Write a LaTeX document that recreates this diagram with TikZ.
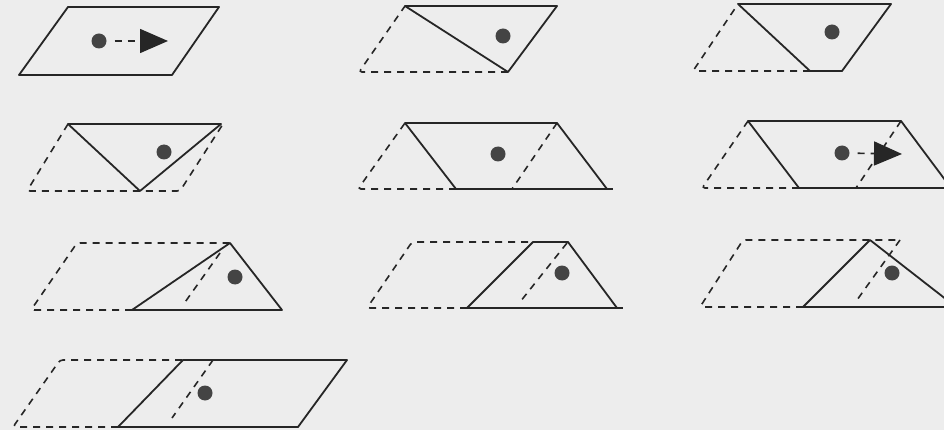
\documentclass[tikz,border=0pt]{standalone}
\usetikzlibrary{arrows.meta}
\definecolor{paper}{RGB}{237, 237, 237}
\definecolor{ink}{RGB}{38, 38, 38}
\definecolor{blob}{RGB}{68, 68, 68}
\tikzset{
	cut/.style={draw=ink, line width=1.8pt, line join=round},
	ghost/.style={draw=ink, line width=1.6pt, dash pattern=on 7pt off 6pt, rounded corners=3pt},
	mass/.style={circle, fill=blob, inner sep=0pt, minimum size=15pt},
	motion/.style={draw=ink, line width=1.6pt, dash pattern=on 7pt off 6pt, shorten <=8pt, -{Triangle[length=28pt, width=24pt]}},
}

\begin{document}
\begin{tikzpicture}[x=1pt, y=-1pt]
	\fill[paper] (0,0) rectangle (944,430);
	\clip (0,0) rectangle (944,430);
	% row 1
	\draw[cut] (68,7) -- (219,7) -- (172,75) -- (19,75) -- cycle;
	\node[mass] (dotA) at (99,41) {};
	\coordinate (tipA) at (168,41);
	\draw[motion] (dotA) -- (tipA);

	\draw[ghost] (508,72) -- (359,72) -- (405,6);
	\draw[cut] (405,6) -- (557,6) -- (508,72) -- cycle;
	\node[mass] (dotB) at (503,36) {};

	\draw[ghost] (810,71) -- (693,71) -- (738,4);
	\draw[cut] (738,4) -- (891,4) -- (842,71) -- (810,71) -- cycle;
	\node[mass] (dotC) at (832,32) {};
	% row 2
	\draw[ghost] (68,124) -- (27,191) -- (180,191) -- (223,124);
	\draw[cut] (68,124) -- (221,124) -- (140,191) -- cycle;
	\node[mass] (dotD) at (164,152) {};

	\draw[ghost] (456,189) -- (358,189) -- (405,123);
	\draw[ghost] (557,123) -- (512,189);
	\draw[cut] (405,123) -- (557,123) -- (607,189) -- (456,189) -- cycle;
	\draw[cut] (607,189) -- (613,189);
	\node[mass] (dotE) at (498,154) {};

	\draw[ghost] (799,188) -- (702,188) -- (748,121);
	\draw[ghost] (901,121) -- (856,188);
	\draw[cut] (960,188) -- (799,188) -- (748,121) -- (901,121) -- (951,188);
	\node[mass] (dotF) at (842,153) {};
	\coordinate (tipF) at (902,154);
	\draw[motion] (dotF) -- (tipF);
	% row 3
	\draw[ghost] (132,310) -- (31,310) -- (77,243) -- (230,243);
	\draw[ghost] (220,253) -- (183,305);
	\draw[cut] (132,310) -- (230,243) -- (282,310) -- cycle;
	\node[mass] (dotG) at (235,277) {};

	\draw[ghost] (467,308) -- (367,308) -- (412,242) -- (533,242);
	\draw[ghost] (567,243) -- (520,302);
	\draw[cut] (467,308) -- (533,242) -- (568,242) -- (617,308) -- cycle;
	\draw[cut] (617,308) -- (623,308);
	\node[mass] (dotH) at (562,273) {};

	\draw[ghost] (803,307) -- (700,307) -- (743,240) -- (900,240);
	\draw[ghost] (900,240) -- (857,300);
	\draw[cut] (960,307) -- (803,307) -- (870,240) -- (956,307);
	\node[mass] (dotI) at (892,273) {};
	% row 4
	\draw[ghost] (118,427) -- (13,427) -- (60,360) -- (183,360);
	\draw[ghost] (213,360) -- (172,418);
	\draw[cut] (183,360) -- (347,360) -- (298,427) -- (118,427) -- cycle;
	\node[mass] (dotJ) at (205,393) {};
\end{tikzpicture}
\end{document}
